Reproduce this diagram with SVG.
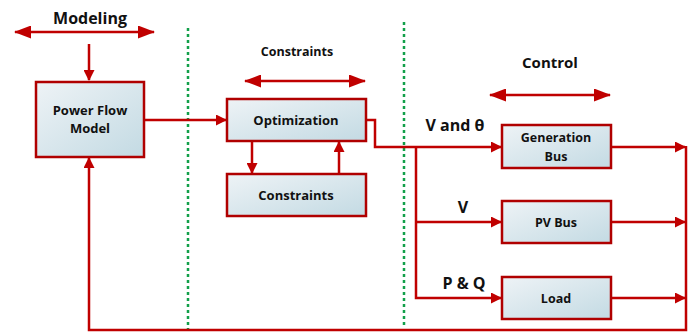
<svg xmlns="http://www.w3.org/2000/svg" width="691" height="332" viewBox="0 0 691 332">
<defs>
<linearGradient id="g" x1="0" y1="0" x2="1" y2="1">
<stop offset="0" stop-color="#eef3f6"/>
<stop offset="1" stop-color="#c3dae3"/>
</linearGradient>
<marker id="a" viewBox="0 0 11 11" refX="10" refY="5.5" markerWidth="11" markerHeight="11" markerUnits="userSpaceOnUse" orient="auto">
<path d="M0,0 L11,5.5 L0,11 z" fill="#c00000"/>
</marker>
<marker id="b" viewBox="0 0 17 13" refX="16" refY="6.5" markerWidth="17" markerHeight="13" markerUnits="userSpaceOnUse" orient="auto-start-reverse">
<path d="M0,0 L17,6.5 L0,13 z" fill="#c00000"/>
</marker>
</defs>
<style>
.box{fill:url(#g);stroke:#b00000;stroke-width:2.5}
.ln{fill:none;stroke:#c00000;stroke-width:2.5}
.t{font-family:"Open Sans","Liberation Sans",sans-serif;font-weight:bold;fill:#111;text-anchor:middle}
.div{stroke:#12a04a;stroke-width:2.5;stroke-dasharray:3,3}
</style>
<g id="dividers">
<line class="div" x1="188" y1="28" x2="188" y2="330"/>
<line class="div" x1="404" y1="22" x2="404" y2="325"/>
</g>
<g id="headers">
<text class="t" x="90" y="24" font-size="16">Modeling</text>
<line class="ln" x1="15" y1="32" x2="154" y2="32" marker-start="url(#b)" marker-end="url(#b)"/>
<text class="t" x="297" y="56" font-size="12.5">Constraints</text>
<line class="ln" x1="245" y1="81" x2="365" y2="81" marker-start="url(#b)" marker-end="url(#b)"/>
<text class="t" x="550" y="68" font-size="15">Control</text>
<line class="ln" x1="490" y1="95" x2="610" y2="95" marker-start="url(#b)" marker-end="url(#b)"/>
</g>
<g id="connectors">
<line class="ln" x1="89" y1="44" x2="89" y2="80" marker-end="url(#a)"/>
<line class="ln" x1="144" y1="120" x2="226" y2="120" marker-end="url(#a)"/>
<line class="ln" x1="252" y1="141" x2="252" y2="173" marker-end="url(#a)"/>
<line class="ln" x1="339" y1="174" x2="339" y2="142" marker-end="url(#a)"/>
<polyline class="ln" points="366,120 375,120 375,147 501,147" marker-end="url(#a)"/>
<polyline class="ln" points="416,147 416,298 501,298" marker-end="url(#a)"/>
<line class="ln" x1="416" y1="222" x2="501" y2="222" marker-end="url(#a)"/>
<line class="ln" x1="611" y1="147" x2="685" y2="147" marker-end="url(#a)"/>
<line class="ln" x1="611" y1="222" x2="685" y2="222" marker-end="url(#a)"/>
<line class="ln" x1="611" y1="298" x2="685" y2="298" marker-end="url(#a)"/>
<polyline class="ln" points="686,146 686,330 89,330 89,158" marker-end="url(#a)"/>
</g>
<g id="labels">
<text class="t" x="455" y="131" font-size="16">V and θ</text>
<text class="t" x="463" y="213" font-size="16">V</text>
<text class="t" x="464" y="289" font-size="16">P &amp; Q</text>
</g>
<g id="powerflow">
<rect class="box" x="36" y="82" width="108" height="75"/>
<text class="t" x="90" y="115" font-size="13">Power Flow</text>
<text class="t" x="90" y="133" font-size="13">Model</text>
</g>
<g id="optimization">
<rect class="box" x="227" y="99" width="139" height="42"/>
<text class="t" x="296" y="125" font-size="13">Optimization</text>
</g>
<g id="constraints">
<rect class="box" x="227" y="174" width="139" height="42"/>
<text class="t" x="296" y="200" font-size="13">Constraints</text>
</g>
<g id="generation">
<rect class="box" x="502" y="125" width="109" height="43"/>
<text class="t" x="556" y="142" font-size="12.5">Generation</text>
<text class="t" x="556" y="161" font-size="12.5">Bus</text>
</g>
<g id="pvbus">
<rect class="box" x="502" y="201" width="109" height="42"/>
<text class="t" x="556" y="227" font-size="12.5">PV Bus</text>
</g>
<g id="load">
<rect class="box" x="502" y="277" width="109" height="42"/>
<text class="t" x="556" y="303" font-size="12.5">Load</text>
</g>
</svg>
